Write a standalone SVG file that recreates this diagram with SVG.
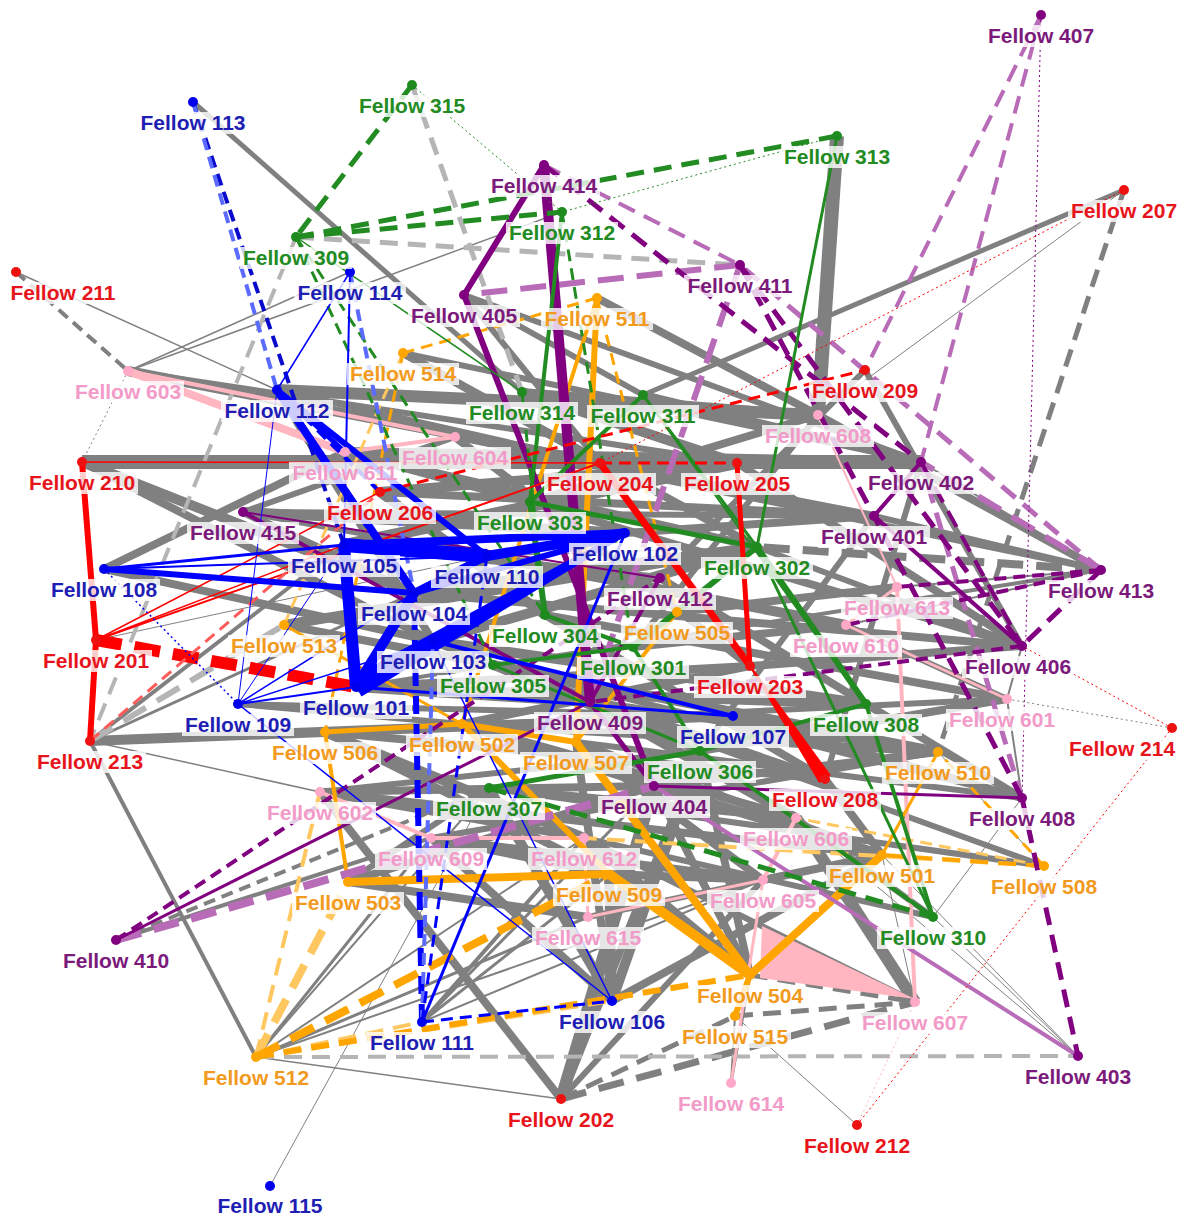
<svg xmlns="http://www.w3.org/2000/svg" width="1183" height="1218" viewBox="0 0 1183 1218">
<style>
path{fill:none;stroke-linecap:butt}
.gy{stroke:#808080}.lg{stroke:#b5b5b5}
.bl{stroke:#0000ff}.db{stroke:#0a0acc}.lb{stroke:#5b6bff}
.rd{stroke:#ff0000}.lr{stroke:#ff5a5a}
.gn{stroke:#228b22}
.pu{stroke:#800080}.lp{stroke:#b86cb8}
.or{stroke:#ffa500}.lo{stroke:#ffc75f}
.pk{stroke:#ffb6c1}
.w1{stroke-width:1}.w15{stroke-width:1.5}.w2{stroke-width:2}.w3{stroke-width:3}.w4{stroke-width:4}.w5{stroke-width:5}.w6{stroke-width:6}.w7{stroke-width:7}.w8{stroke-width:8}.w10{stroke-width:10}.w12{stroke-width:12}.w14{stroke-width:14}
.d4{stroke-dasharray:12 7}.d6{stroke-dasharray:18 10}.d8{stroke-dasharray:26 13}.dt{stroke-dasharray:2 3}
.node rect{fill:#fff;fill-opacity:.8}
.node text{font-family:"Liberation Sans",Arial,sans-serif;font-weight:bold;font-size:21px;text-anchor:middle}
.b circle{fill:#0000ee}.b text{fill:#1e1eb4}
.r circle{fill:#ee1111}.r text{fill:#e8141c}
.g circle{fill:#1f8b1f}.g text{fill:#228b22}
.p circle{fill:#800080}.p text{fill:#7b1a7b}
.o circle{fill:#ffa500}.o text{fill:#f29a1d}
.k circle{fill:#ffa8c8}.k text{fill:#f29ac8}
</style>
<rect width="1183" height="1218" fill="#fff"/>
<g id="connectors">
 <!-- heavy grey links between groups -->
 <g class="gy">
  <path class="w14" d="M82 462L921 462"/>
  <path class="w14" d="M837 136L818 415"/>
  <path class="w12" d="M277 390L818 415"/>
  <path class="w12" d="M561 1099L654 786"/>
  <path class="w12" d="M915 1002L796 818"/>
  <path class="w12" d="M344 545L737 463"/>
  <path class="w10" d="M128 371L600 463"/>
  <path class="w10" d="M612 1001L700 751"/>
  <path class="w10" d="M90 741L733 716"/>
  <path class="w10" d="M284 625L757 547"/>
  <path class="w10" d="M345 452L921 462"/>
  <path class="w10" d="M487 556L846 625"/>
  <path class="w10" d="M433 641L866 704"/>
  <path class="w10" d="M82 462L414 593"/>
  <path class="w10" d="M356 687L590 702"/>
  <path class="w10" d="M750 975L584 838"/>
  <path class="w10" d="M489 788L612 1001"/>
  <path class="w10" d="M243 512L625 533"/>
  <path class="w10" d="M380 492L545 615"/>
  <path class="w10" d="M380 492L737 463"/>
  <path class="w10" d="M433 641L757 547"/>
  <path class="w10" d="M414 593L757 547"/>
  <path class="w10" d="M356 687L866 704"/>
  <path class="w10" d="M493 665L938 752"/>
  <path class="w10" d="M590 702L796 818"/>
  <path class="w10" d="M654 786L882 855"/>
  <path class="w10" d="M462 724L654 786"/>
  <path class="w10" d="M325 732L584 838"/>
  <path class="w10" d="M609 874L612 1001"/>
  <path class="w10" d="M522 392L737 463"/>
  <path class="w8" d="M561 1099L700 751"/>
  <path class="w8" d="M561 1099L320 792"/>
  <path class="w8" d="M431 838L612 1001"/>
  <path class="w8" d="M320 792L654 786"/>
  <path class="w8" d="M356 687L750 666"/>
  <path class="w8" d="M380 492L874 516"/>
  <path class="w8" d="M530 502L1022 646"/>
  <path class="w8" d="M545 615L1007 699"/>
  <path class="w8" d="M462 724L938 752"/>
  <path class="w8" d="M320 792L882 855"/>
  <path class="w8" d="M609 874L763 880"/>
  <path class="w8" d="M522 392L818 415"/>
  <path class="w8" d="M82 462L433 641"/>
  <path class="w8" d="M344 545L660 578"/>
  <path class="w8" d="M414 593L1022 646"/>
  <path class="w8" d="M348 882L654 786"/>
  <path class="w8" d="M325 732L825 779"/>
  <path class="w8" d="M431 838L763 880"/>
  <path class="w8" d="M612 1001L882 855"/>
  <path class="w8" d="M104 569L433 641"/>
  <path class="w8" d="M345 452L757 547"/>
  <path class="w8" d="M455 437L750 666"/>
  <path class="w8" d="M737 463L1022 646"/>
  <path class="w8" d="M818 415L1101 570"/>
  <path class="w8" d="M433 641L700 751"/>
  <path class="w8" d="M493 665L825 779"/>
  <path class="w8" d="M462 724L796 818"/>
  <path class="w8" d="M576 742L882 855"/>
  <path class="w8" d="M654 786L938 752"/>
  <path class="w8" d="M325 732L609 874"/>
  <path class="w8" d="M320 792L584 838"/>
  <path class="w8" d="M104 569L345 452"/>
  <path class="w8" d="M403 353L757 547"/>
  <path class="w8" d="M462 724L750 666"/>
  <path class="w8" d="M545 615L825 779"/>
  <path class="w8" d="M576 742L763 880"/>
  <path class="w8" d="M700 751L1007 699"/>
  <path class="w8" d="M733 716L1022 798"/>
  <path class="w8" d="M489 788L796 818"/>
  <path class="w8" d="M431 838L609 874"/>
  <path class="w8" d="M348 882L588 917"/>
  <path class="w8" d="M700 751L750 975"/>
  <path class="w8" d="M654 786L750 975"/>
  <path class="w8" d="M576 742L612 1001"/>
  <path class="w8" d="M660 578L866 704"/>
  <path class="w8" d="M633 647L846 625"/>
  <path class="w8" d="M677 612L897 587"/>
  <path class="w8" d="M625 533L874 516"/>
  <path class="w8" d="M600 463L874 516"/>
  <path class="w8" d="M530 502L818 415"/>
  <path class="w8" d="M643 395L921 462"/>
  <path class="w8" d="M597 298L818 415"/>
  <path class="w8" d="M403 353L600 463"/>
  <path class="w8" d="M345 452L530 502"/>
  <path class="w8" d="M277 390L433 641"/>
  <path class="w8" d="M243 512L414 593"/>
  <path class="w8" d="M284 625L493 665"/>
  <path class="w8" d="M750 666L1022 646"/>
  <path class="w8" d="M866 704L1022 798"/>
  <path class="w8" d="M590 702L938 752"/>
  <path class="w8" d="M825 779L882 855"/>
  <path class="w8" d="M763 880L882 855"/>
  <path class="w6" d="M325 732L1007 699"/>
  <path class="w6" d="M576 742L1022 798"/>
  <path class="w6" d="M590 702L1044 866"/>
  <path class="w6" d="M431 838L938 752"/>
  <path class="w6" d="M584 838L915 1002"/>
  <path class="w6" d="M588 917L763 880"/>
  <path class="w6" d="M584 838L933 917"/>
  <path class="w6" d="M464 295L921 462"/>
  <path class="w6" d="M403 353L921 462"/>
  <path class="w6" d="M128 371L737 463"/>
  <path class="w6" d="M243 512L874 516"/>
  <path class="w6" d="M348 882L489 788"/>
  <path class="w6" d="M320 792L700 751"/>
  <path class="w6" d="M493 665L1022 798"/>
  <path class="w6" d="M455 437L1101 570"/>
  <path class="w6" d="M865 370L660 578"/>
  <path class="w6" d="M818 415L633 647"/>
  <path class="w6" d="M921 462L825 779"/>
  <path class="w6" d="M874 516L700 751"/>
  <path class="w6" d="M243 512L487 556"/>
  <path class="w6" d="M238 704L733 716"/>
  <path class="w6" d="M561 1099L763 880"/>
  <path class="w6" d="M865 370L1022 646"/>
  <path class="w6" d="M489 788L1044 866"/>
  <path class="w6" d="M243 512L455 437"/>
  <path class="w6" d="M277 390L600 463"/>
  <path class="w6" d="M464 295L643 395"/>
  <path class="w6" d="M464 295L600 463"/>
  <path class="w6" d="M238 704L462 724"/>
  <path class="w6" d="M757 547L1022 646"/>
  <path class="w6" d="M846 625L1007 699"/>
  <path class="w6" d="M874 516L1101 570"/>
  <path class="w6" d="M733 716L938 752"/>
  <path class="w6" d="M796 818L933 917"/>
  <path class="w5" d="M193 102L522 392"/>
  <path class="w5" d="M1124 190L643 395"/>
  <path class="w4" d="M356 687L1101 570"/>
  <path class="w4" d="M90 741L344 545"/>
  <path class="w4" d="M90 741L256 1057"/>
  <path class="w4" d="M116 940L431 838"/>
  <path class="w4" d="M422 1022L584 838"/>
  <path class="w3" d="M90 741L414 593"/>
  <path class="w3" d="M422 1022L609 874"/>
  <path class="w3" d="M422 1022L654 786"/>
  <path class="w3" d="M256 1057L588 917"/>
  <path class="w3" d="M256 1057L431 838"/>
  <path class="w3" d="M731 1083L750 975"/>
  <path class="w2" d="M422 1022L763 880"/>
  <path class="w2" d="M256 1057L763 880"/>
  <path class="w2" d="M256 1057L584 838"/>
  <path class="w2" d="M256 1057L489 788"/>
  <path class="w2" d="M731 1083L735 1016"/>
  <path class="w2" d="M1101 570L921 462"/>
  <path class="w2" d="M1101 570L874 516"/>
  <path class="w2" d="M1101 570L846 625"/>
  <path class="w2" d="M1101 570L897 587"/>
  <path class="w2" d="M1022 646L1007 699"/>
  <path class="w2" d="M1022 798L1007 699"/>
  <path class="w2" d="M1022 798L938 752"/>
  <path class="w15" d="M16 272L277 390"/>
  <path class="w15" d="M128 371L562 212"/>
  <path class="w15" d="M350 272L128 371"/>
  <path class="w15" d="M90 741L320 792"/>
  <path class="w15" d="M256 1057L561 1099"/>
  <path class="w1" d="M270 1186L489 788"/>
  <path class="w1" d="M857 1125L735 1016"/>
  <path class="w1" d="M1078 1056L933 917"/>
  <path class="w1" d="M1078 1056L882 855"/>
  <path class="w1" d="M1124 190L818 415"/>
  <path class="w1" d="M104 569L757 547"/>
  <path class="w1" d="M96 640L487 556"/>
  <path class="w1" d="M1044 866L938 752"/>
  <path class="w1" d="M933 917L1022 798"/>
  <path class="w1" d="M915 1002L882 855"/>
  <path class="w1" d="M1078 1056L796 818"/>
  <path class="w4 d4" d="M16 272L128 371"/>
  <path class="w4 d4" d="M116 940L489 788"/>
  <path class="w5 d6" d="M1124 190L938 752"/>
  <path class="w8 d8" d="M1101 570L757 547"/>
  <path class="w7 d8" d="M561 1099L915 1002"/>
  <path class="w5 d6" d="M561 1099L735 1016"/>
  <path class="w5 d6" d="M735 1016L915 1002"/>
  <path class="w5 d6" d="M750 975L915 1002"/>
  <path class="w1 dt" d="M1172 728L1007 699"/>
  <path class="w1 dt" d="M82 462L128 371"/>
 </g>
 <g class="lg">
  <path class="w5 d6" d="M296 237L740 265"/>
  <path class="w4 d6" d="M296 237L90 741"/>
  <path class="w5 d6" d="M412 85L522 392"/>
  <path class="w4 d6" d="M256 1057L1078 1056"/>
  <path class="w6 d8" d="M90 741L284 625"/>
 </g>
 <g class="pk">
  <path class="w8" d="M128 371L345 452"/>
  <path class="w4" d="M128 371L455 437"/>
  <polygon points="915,999 762,926 760,978" fill="#ffb6c1" stroke="none"/>
  <path class="w3" d="M1007 699L846 625"/>
  <path class="w3" d="M897 587L846 625"/>
  <path class="w4" d="M455 437L345 452"/>
  <path class="w4" d="M796 818L763 880"/>
  <path class="w3" d="M584 838L588 917"/>
  <path class="w4" d="M431 838L584 838"/>
  <path class="w4" d="M320 792L431 838"/>
  <path class="w3" d="M763 880L588 917"/>
  <path class="w2" d="M818 415L897 587"/>
  <path class="w1 dt" d="M857 1125L915 1002"/>
  <path class="w4" d="M897 587L915 1002"/>
  <path class="w3" d="M731 1083L763 880"/>
 </g>
 <g class="lo">
  <path class="w8 d8" d="M256 1057L348 882"/>
  <path class="w4 d6" d="M256 1057L320 792"/>
  <path class="w4 d6" d="M256 1057L612 1001"/>
  <path class="w4 d6" d="M256 1057L422 1022"/>
  <path class="w3 d4" d="M403 353L284 625"/>
  <path class="w4 d6" d="M1044 866L584 838"/>
  <path class="w3 d4" d="M1044 866L796 818"/>
 </g>
 <g class="or">
  <path class="w8 d8" d="M256 1057L609 874"/>
  <path class="w6 d6" d="M256 1057L750 975"/>
  <path class="w6" d="M597 298L576 742"/>
  <path class="w3 d4" d="M597 298L403 353"/>
  <path class="w4" d="M597 298L462 724"/>
  <path class="w3 d4" d="M597 298L677 612"/>
  <path class="w3 d4" d="M403 353L325 732"/>
  <path class="w6" d="M462 724L576 742"/>
  <path class="w5" d="M325 732L462 724"/>
  <path class="w8" d="M348 882L609 874"/>
  <path class="w10" d="M609 874L750 975"/>
  <path class="w8" d="M882 855L750 975"/>
  <path class="w4" d="M677 612L576 742"/>
  <path class="w3" d="M284 625L462 724"/>
  <path class="w4" d="M325 732L348 882"/>
  <path class="w3" d="M938 752L882 855"/>
  <path class="w6" d="M735 1016L750 975"/>
  <path class="w4 d6" d="M1044 866L882 855"/>
  <path class="w3 d4" d="M1044 866L938 752"/>
  <path class="w8" d="M576 742L750 975"/>
  <path class="w6" d="M462 724L609 874"/>
 </g>
 <g class="lp">
  <path class="w4 d6" d="M544 165L740 265"/>
  <path class="w6 d8" d="M740 265L464 295"/>
  <path class="w6 d8" d="M740 265L590 702"/>
  <path class="w4 d6" d="M1041 15L865 370"/>
  <path class="w4 d6" d="M1041 15L921 462"/>
  <path class="w6 d8" d="M1101 570L921 462"/>
  <path class="w5 d6" d="M1101 570L740 265"/>
  <path class="w5 d6" d="M1022 798L921 462"/>
  <path class="w4" d="M1078 1056L654 786"/>
  <path class="w8 d8" d="M116 940L654 786"/>
 </g>
 <g class="pu">
  <path class="w6" d="M544 165L464 295"/>
  <path class="w10" d="M544 165L590 702"/>
  <path class="w6" d="M464 295L654 786"/>
  <path class="w5 d6" d="M544 165L921 462"/>
  <path class="w5 d6" d="M740 265L874 516"/>
  <path class="w5 d6" d="M740 265L1022 646"/>
  <path class="w1 dt" d="M1041 15L1022 798"/>
  <path class="w5 d6" d="M1101 570L1022 646"/>
  <path class="w4 d4" d="M1101 570L897 587"/>
  <path class="w4 d4" d="M1101 570L846 625"/>
  <path class="w5 d6" d="M1022 798L874 516"/>
  <path class="w5 d6" d="M1022 798L1078 1056"/>
  <path class="w4 d4" d="M1022 646L590 702"/>
  <path class="w3" d="M116 940L590 702"/>
  <path class="w4 d4" d="M116 940L660 578"/>
  <path class="w4" d="M243 512L590 702"/>
  <path class="w2" d="M243 512L660 578"/>
  <path class="w4" d="M874 516L921 462"/>
  <path class="w5" d="M590 702L654 786"/>
  <path class="w4" d="M660 578L590 702"/>
  <path class="w4" d="M1022 646L874 516"/>
  <path class="w3" d="M654 786L1022 798"/>
  <path class="w4 d6" d="M921 462L1022 646"/>
 </g>
 <g class="gn">
  <path class="w5 d6" d="M412 85L296 237"/>
  <path class="w1 dt" d="M412 85L562 212"/>
  <path class="w5 d6" d="M296 237L837 136"/>
  <path class="w5 d6" d="M296 237L562 212"/>
  <path class="w3 d4" d="M296 237L545 615"/>
  <path class="w3 d4" d="M296 237L493 665"/>
  <path class="w15" d="M296 237L522 392"/>
  <path class="w3" d="M837 136L757 547"/>
  <path class="w1 dt" d="M837 136L562 212"/>
  <path class="w4" d="M562 212L530 502"/>
  <path class="w3 d4" d="M562 212L633 647"/>
  <path class="w3 d4" d="M522 392L545 615"/>
  <path class="w4" d="M643 395L530 502"/>
  <path class="w3" d="M643 395L757 547"/>
  <path class="w2" d="M643 395L866 704"/>
  <path class="w6" d="M530 502L545 615"/>
  <path class="w6" d="M757 547L866 704"/>
  <path class="w6" d="M757 547L633 647"/>
  <path class="w5" d="M530 502L757 547"/>
  <path class="w4" d="M633 647L493 665"/>
  <path class="w4" d="M545 615L633 647"/>
  <path class="w3" d="M493 665L700 751"/>
  <path class="w5" d="M700 751L489 788"/>
  <path class="w4" d="M866 704L700 751"/>
  <path class="w5 d6" d="M489 788L933 917"/>
  <path class="w4" d="M933 917L866 704"/>
  <path class="w3" d="M933 917L757 547"/>
  <path class="w4" d="M700 751L933 917"/>
  <path class="w4" d="M633 647L700 751"/>
 </g>
 <g class="rd">
  <path class="w6" d="M82 462L96 640"/>
  <path class="w6" d="M96 640L90 741"/>
  <path class="w12 d8" d="M96 640L356 687"/>
  <path class="w2" d="M96 640L600 463"/>
  <path class="w15" d="M96 640L380 492"/>
  <path class="w15" d="M96 640L344 545"/>
  <path class="w15" d="M82 462L600 463"/>
  <path class="w3 d4" d="M600 463L737 463"/>
  <path class="w3 d4" d="M380 492L865 370"/>
  <path class="w1 dt" d="M1124 190L600 463"/>
  <path class="w5" d="M737 463L750 666"/>
  <path class="w7" d="M600 463L750 666"/>
  <polygon points="750.8,665.4 830.8,775.1 819.2,782.9 749.2,666.6" fill="#ff0000" stroke="none"/>
  <path class="w1 dt" d="M857 1125L1172 728"/>
  <path class="w1 dt" d="M1172 728L1022 646"/>
 </g>
 <path class="lr w3 d4" d="M90 741L380 492"/>
 <g class="bl">
  <path class="db w4 d4" d="M193 102L344 545"/>
  <path class="lb w4 d4" d="M193 102L277 390"/>
  <path class="w15" d="M350 272L277 390"/>
  <path class="lb w4 d4" d="M350 272L414 593"/>
  <path class="w2" d="M350 272L344 545"/>
  <path class="w8" d="M277 390L414 593"/>
  <path class="w6" d="M277 390L487 556"/>
  <path class="w5" d="M277 390L345 452"/>
  <path class="w4 d4" d="M277 390L380 492"/>
  <path class="w1" d="M277 390L238 704"/>
  <path class="w14" d="M344 545L487 556"/>
  <path class="w12" d="M344 545L356 687"/>
  <path class="w8" d="M344 545L625 533"/>
  <polygon points="626.5,535.6 361.5,696.5 350.5,677.5 623.5,530.4" fill="#0000ff" stroke="none"/>
  <path class="w10" d="M625 533L487 556"/>
  <path class="w6" d="M625 533L414 593"/>
  <path class="w10" d="M414 593L356 687"/>
  <path class="w6" d="M433 641L356 687"/>
  <path class="w8" d="M487 556L414 593"/>
  <path class="w6" d="M104 569L414 593"/>
  <path class="w3" d="M104 569L344 545"/>
  <path class="w15 dt" d="M104 569L238 704"/>
  <path class="w2" d="M104 569L487 556"/>
  <path class="w2" d="M238 704L356 687"/>
  <path class="w15" d="M238 704L433 641"/>
  <path class="w15" d="M238 704L414 593"/>
  <path class="w1" d="M238 704L344 545"/>
  <path class="w3" d="M356 687L733 716"/>
  <path class="w4" d="M733 716L433 641"/>
  <path class="w6 d6" d="M422 1022L414 593"/>
  <path class="lb w4 d4" d="M422 1022L433 641"/>
  <path class="w3 d4" d="M422 1022L612 1001"/>
  <path class="w3" d="M422 1022L625 533"/>
  <path class="w3 d4" d="M422 1022L487 556"/>
  <path class="w15" d="M612 1001L238 704"/>
  <path class="w15" d="M612 1001L433 641"/>
 </g>
</g>
<g id="nodes">
 <g id="n101" class="node b"><circle cx="356" cy="687" r="5"/><rect x="300" y="697" width="112" height="22"/><text x="356" y="715">Fellow 101</text></g>
 <g id="n102" class="node b"><circle cx="625" cy="533" r="5"/><rect x="569" y="543" width="112" height="22"/><text x="625" y="561">Fellow 102</text></g>
 <g id="n103" class="node b"><circle cx="433" cy="641" r="5"/><rect x="377" y="651" width="112" height="22"/><text x="433" y="669">Fellow 103</text></g>
 <g id="n104" class="node b"><circle cx="414" cy="593" r="5"/><rect x="358" y="603" width="112" height="22"/><text x="414" y="621">Fellow 104</text></g>
 <g id="n105" class="node b"><circle cx="344" cy="545" r="5"/><rect x="288" y="555" width="112" height="22"/><text x="344" y="573">Fellow 105</text></g>
 <g id="n106" class="node b"><circle cx="612" cy="1001" r="5"/><rect x="556" y="1011" width="112" height="22"/><text x="612" y="1029">Fellow 106</text></g>
 <g id="n107" class="node b"><circle cx="733" cy="716" r="5"/><rect x="677" y="726" width="112" height="22"/><text x="733" y="744">Fellow 107</text></g>
 <g id="n108" class="node b"><circle cx="104" cy="569" r="5"/><rect x="48" y="579" width="112" height="22"/><text x="104" y="597">Fellow 108</text></g>
 <g id="n109" class="node b"><circle cx="238" cy="704" r="5"/><rect x="182" y="714" width="112" height="22"/><text x="238" y="732">Fellow 109</text></g>
 <g id="n110" class="node b"><circle cx="487" cy="556" r="5"/><rect x="431" y="566" width="112" height="22"/><text x="487" y="584">Fellow 110</text></g>
 <g id="n111" class="node b"><circle cx="422" cy="1022" r="5"/><rect x="366" y="1032" width="112" height="22"/><text x="422" y="1050">Fellow 111</text></g>
 <g id="n112" class="node b"><circle cx="277" cy="390" r="5"/><rect x="221" y="400" width="112" height="22"/><text x="277" y="418">Fellow 112</text></g>
 <g id="n113" class="node b"><circle cx="193" cy="102" r="5"/><rect x="137" y="112" width="112" height="22"/><text x="193" y="130">Fellow 113</text></g>
 <g id="n114" class="node b"><circle cx="350" cy="272" r="5"/><rect x="294" y="282" width="112" height="22"/><text x="350" y="300">Fellow 114</text></g>
 <g id="n115" class="node b"><circle cx="270" cy="1186" r="5"/><rect x="214" y="1196" width="112" height="22"/><text x="270" y="1213">Fellow 115</text></g>
 <g id="n201" class="node r"><circle cx="96" cy="640" r="5"/><rect x="40" y="650" width="112" height="22"/><text x="96" y="668">Fellow 201</text></g>
 <g id="n202" class="node r"><circle cx="561" cy="1099" r="5"/><rect x="505" y="1109" width="112" height="22"/><text x="561" y="1127">Fellow 202</text></g>
 <g id="n203" class="node r"><circle cx="750" cy="666" r="5"/><rect x="694" y="676" width="112" height="22"/><text x="750" y="694">Fellow 203</text></g>
 <g id="n204" class="node r"><circle cx="600" cy="463" r="5"/><rect x="544" y="473" width="112" height="22"/><text x="600" y="491">Fellow 204</text></g>
 <g id="n205" class="node r"><circle cx="737" cy="463" r="5"/><rect x="681" y="473" width="112" height="22"/><text x="737" y="491">Fellow 205</text></g>
 <g id="n206" class="node r"><circle cx="380" cy="492" r="5"/><rect x="324" y="502" width="112" height="22"/><text x="380" y="520">Fellow 206</text></g>
 <g id="n207" class="node r"><circle cx="1124" cy="190" r="5"/><rect x="1068" y="200" width="112" height="22"/><text x="1124" y="218">Fellow 207</text></g>
 <g id="n208" class="node r"><circle cx="825" cy="779" r="5"/><rect x="769" y="789" width="112" height="22"/><text x="825" y="807">Fellow 208</text></g>
 <g id="n209" class="node r"><circle cx="865" cy="370" r="5"/><rect x="809" y="380" width="112" height="22"/><text x="865" y="398">Fellow 209</text></g>
 <g id="n210" class="node r"><circle cx="82" cy="462" r="5"/><rect x="26" y="472" width="112" height="22"/><text x="82" y="490">Fellow 210</text></g>
 <g id="n211" class="node r"><circle cx="16" cy="272" r="5"/><rect x="7" y="282" width="112" height="22"/><text x="63" y="300">Fellow 211</text></g>
 <g id="n212" class="node r"><circle cx="857" cy="1125" r="5"/><rect x="801" y="1135" width="112" height="22"/><text x="857" y="1153">Fellow 212</text></g>
 <g id="n213" class="node r"><circle cx="90" cy="741" r="5"/><rect x="34" y="751" width="112" height="22"/><text x="90" y="769">Fellow 213</text></g>
 <g id="n214" class="node r"><circle cx="1172" cy="728" r="5"/><rect x="1066" y="738" width="112" height="22"/><text x="1122" y="756">Fellow 214</text></g>
 <g id="n301" class="node g"><circle cx="633" cy="647" r="5"/><rect x="577" y="657" width="112" height="22"/><text x="633" y="675">Fellow 301</text></g>
 <g id="n302" class="node g"><circle cx="757" cy="547" r="5"/><rect x="701" y="557" width="112" height="22"/><text x="757" y="575">Fellow 302</text></g>
 <g id="n303" class="node g"><circle cx="530" cy="502" r="5"/><rect x="474" y="512" width="112" height="22"/><text x="530" y="530">Fellow 303</text></g>
 <g id="n304" class="node g"><circle cx="545" cy="615" r="5"/><rect x="489" y="625" width="112" height="22"/><text x="545" y="643">Fellow 304</text></g>
 <g id="n305" class="node g"><circle cx="493" cy="665" r="5"/><rect x="437" y="675" width="112" height="22"/><text x="493" y="693">Fellow 305</text></g>
 <g id="n306" class="node g"><circle cx="700" cy="751" r="5"/><rect x="644" y="761" width="112" height="22"/><text x="700" y="779">Fellow 306</text></g>
 <g id="n307" class="node g"><circle cx="489" cy="788" r="5"/><rect x="433" y="798" width="112" height="22"/><text x="489" y="816">Fellow 307</text></g>
 <g id="n308" class="node g"><circle cx="866" cy="704" r="5"/><rect x="810" y="714" width="112" height="22"/><text x="866" y="732">Fellow 308</text></g>
 <g id="n309" class="node g"><circle cx="296" cy="237" r="5"/><rect x="240" y="247" width="112" height="22"/><text x="296" y="265">Fellow 309</text></g>
 <g id="n310" class="node g"><circle cx="933" cy="917" r="5"/><rect x="877" y="927" width="112" height="22"/><text x="933" y="945">Fellow 310</text></g>
 <g id="n311" class="node g"><circle cx="643" cy="395" r="5"/><rect x="587" y="405" width="112" height="22"/><text x="643" y="423">Fellow 311</text></g>
 <g id="n312" class="node g"><circle cx="562" cy="212" r="5"/><rect x="506" y="222" width="112" height="22"/><text x="562" y="240">Fellow 312</text></g>
 <g id="n313" class="node g"><circle cx="837" cy="136" r="5"/><rect x="781" y="146" width="112" height="22"/><text x="837" y="164">Fellow 313</text></g>
 <g id="n314" class="node g"><circle cx="522" cy="392" r="5"/><rect x="466" y="402" width="112" height="22"/><text x="522" y="420">Fellow 314</text></g>
 <g id="n315" class="node g"><circle cx="412" cy="85" r="5"/><rect x="356" y="95" width="112" height="22"/><text x="412" y="113">Fellow 315</text></g>
 <g id="n401" class="node p"><circle cx="874" cy="516" r="5"/><rect x="818" y="526" width="112" height="22"/><text x="874" y="544">Fellow 401</text></g>
 <g id="n402" class="node p"><circle cx="921" cy="462" r="5"/><rect x="865" y="472" width="112" height="22"/><text x="921" y="490">Fellow 402</text></g>
 <g id="n403" class="node p"><circle cx="1078" cy="1056" r="5"/><rect x="1022" y="1066" width="112" height="22"/><text x="1078" y="1084">Fellow 403</text></g>
 <g id="n404" class="node p"><circle cx="654" cy="786" r="5"/><rect x="598" y="796" width="112" height="22"/><text x="654" y="814">Fellow 404</text></g>
 <g id="n405" class="node p"><circle cx="464" cy="295" r="5"/><rect x="408" y="305" width="112" height="22"/><text x="464" y="323">Fellow 405</text></g>
 <g id="n406" class="node p"><circle cx="1022" cy="646" r="5"/><rect x="962" y="656" width="112" height="22"/><text x="1018" y="674">Fellow 406</text></g>
 <g id="n407" class="node p"><circle cx="1041" cy="15" r="5"/><rect x="985" y="25" width="112" height="22"/><text x="1041" y="43">Fellow 407</text></g>
 <g id="n408" class="node p"><circle cx="1022" cy="798" r="5"/><rect x="966" y="808" width="112" height="22"/><text x="1022" y="826">Fellow 408</text></g>
 <g id="n409" class="node p"><circle cx="590" cy="702" r="5"/><rect x="534" y="712" width="112" height="22"/><text x="590" y="730">Fellow 409</text></g>
 <g id="n410" class="node p"><circle cx="116" cy="940" r="5"/><rect x="60" y="950" width="112" height="22"/><text x="116" y="968">Fellow 410</text></g>
 <g id="n411" class="node p"><circle cx="740" cy="265" r="5"/><rect x="684" y="275" width="112" height="22"/><text x="740" y="293">Fellow 411</text></g>
 <g id="n412" class="node p"><circle cx="660" cy="578" r="5"/><rect x="604" y="588" width="112" height="22"/><text x="660" y="606">Fellow 412</text></g>
 <g id="n413" class="node p"><circle cx="1101" cy="570" r="5"/><rect x="1045" y="580" width="112" height="22"/><text x="1101" y="598">Fellow 413</text></g>
 <g id="n414" class="node p"><circle cx="544" cy="165" r="5"/><rect x="488" y="175" width="112" height="22"/><text x="544" y="193">Fellow 414</text></g>
 <g id="n415" class="node p"><circle cx="243" cy="512" r="5"/><rect x="187" y="522" width="112" height="22"/><text x="243" y="540">Fellow 415</text></g>
 <g id="n501" class="node o"><circle cx="882" cy="855" r="5"/><rect x="826" y="865" width="112" height="22"/><text x="882" y="883">Fellow 501</text></g>
 <g id="n502" class="node o"><circle cx="462" cy="724" r="5"/><rect x="406" y="734" width="112" height="22"/><text x="462" y="752">Fellow 502</text></g>
 <g id="n503" class="node o"><circle cx="348" cy="882" r="5"/><rect x="292" y="892" width="112" height="22"/><text x="348" y="910">Fellow 503</text></g>
 <g id="n504" class="node o"><circle cx="750" cy="975" r="5"/><rect x="694" y="985" width="112" height="22"/><text x="750" y="1003">Fellow 504</text></g>
 <g id="n505" class="node o"><circle cx="677" cy="612" r="5"/><rect x="621" y="622" width="112" height="22"/><text x="677" y="640">Fellow 505</text></g>
 <g id="n506" class="node o"><circle cx="325" cy="732" r="5"/><rect x="269" y="742" width="112" height="22"/><text x="325" y="760">Fellow 506</text></g>
 <g id="n507" class="node o"><circle cx="576" cy="742" r="5"/><rect x="520" y="752" width="112" height="22"/><text x="576" y="770">Fellow 507</text></g>
 <g id="n508" class="node o"><circle cx="1044" cy="866" r="5"/><rect x="988" y="876" width="112" height="22"/><text x="1044" y="894">Fellow 508</text></g>
 <g id="n509" class="node o"><circle cx="609" cy="874" r="5"/><rect x="553" y="884" width="112" height="22"/><text x="609" y="902">Fellow 509</text></g>
 <g id="n510" class="node o"><circle cx="938" cy="752" r="5"/><rect x="882" y="762" width="112" height="22"/><text x="938" y="780">Fellow 510</text></g>
 <g id="n511" class="node o"><circle cx="597" cy="298" r="5"/><rect x="541" y="308" width="112" height="22"/><text x="597" y="326">Fellow 511</text></g>
 <g id="n512" class="node o"><circle cx="256" cy="1057" r="5"/><rect x="200" y="1067" width="112" height="22"/><text x="256" y="1085">Fellow 512</text></g>
 <g id="n513" class="node o"><circle cx="284" cy="625" r="5"/><rect x="228" y="635" width="112" height="22"/><text x="284" y="653">Fellow 513</text></g>
 <g id="n514" class="node o"><circle cx="403" cy="353" r="5"/><rect x="347" y="363" width="112" height="22"/><text x="403" y="381">Fellow 514</text></g>
 <g id="n515" class="node o"><circle cx="735" cy="1016" r="5"/><rect x="679" y="1026" width="112" height="22"/><text x="735" y="1044">Fellow 515</text></g>
 <g id="n601" class="node k"><circle cx="1007" cy="699" r="5"/><rect x="946" y="709" width="112" height="22"/><text x="1002" y="727">Fellow 601</text></g>
 <g id="n602" class="node k"><circle cx="320" cy="792" r="5"/><rect x="264" y="802" width="112" height="22"/><text x="320" y="820">Fellow 602</text></g>
 <g id="n603" class="node k"><circle cx="128" cy="371" r="5"/><rect x="72" y="381" width="112" height="22"/><text x="128" y="399">Fellow 603</text></g>
 <g id="n604" class="node k"><circle cx="455" cy="437" r="5"/><rect x="399" y="447" width="112" height="22"/><text x="455" y="465">Fellow 604</text></g>
 <g id="n605" class="node k"><circle cx="763" cy="880" r="5"/><rect x="707" y="890" width="112" height="22"/><text x="763" y="908">Fellow 605</text></g>
 <g id="n606" class="node k"><circle cx="796" cy="818" r="5"/><rect x="740" y="828" width="112" height="22"/><text x="796" y="846">Fellow 606</text></g>
 <g id="n607" class="node k"><circle cx="915" cy="1002" r="5"/><rect x="859" y="1012" width="112" height="22"/><text x="915" y="1030">Fellow 607</text></g>
 <g id="n608" class="node k"><circle cx="818" cy="415" r="5"/><rect x="762" y="425" width="112" height="22"/><text x="818" y="443">Fellow 608</text></g>
 <g id="n609" class="node k"><circle cx="431" cy="838" r="5"/><rect x="375" y="848" width="112" height="22"/><text x="431" y="866">Fellow 609</text></g>
 <g id="n610" class="node k"><circle cx="846" cy="625" r="5"/><rect x="790" y="635" width="112" height="22"/><text x="846" y="653">Fellow 610</text></g>
 <g id="n611" class="node k"><circle cx="345" cy="452" r="5"/><rect x="289" y="462" width="112" height="22"/><text x="345" y="480">Fellow 611</text></g>
 <g id="n612" class="node k"><circle cx="584" cy="838" r="5"/><rect x="528" y="848" width="112" height="22"/><text x="584" y="866">Fellow 612</text></g>
 <g id="n613" class="node k"><circle cx="897" cy="587" r="5"/><rect x="841" y="597" width="112" height="22"/><text x="897" y="615">Fellow 613</text></g>
 <g id="n614" class="node k"><circle cx="731" cy="1083" r="5"/><rect x="675" y="1093" width="112" height="22"/><text x="731" y="1111">Fellow 614</text></g>
 <g id="n615" class="node k"><circle cx="588" cy="917" r="5"/><rect x="532" y="927" width="112" height="22"/><text x="588" y="945">Fellow 615</text></g>
</g>
</svg>
